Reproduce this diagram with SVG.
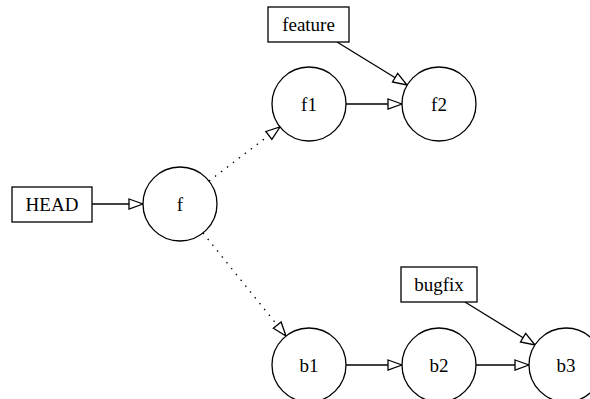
<svg xmlns="http://www.w3.org/2000/svg" width="590" height="399" viewBox="0 0 590 399">
<style>
.n{fill:#fff;stroke:#000;stroke-width:1.3}
.t{font-family:"Liberation Serif","Times New Roman",serif;font-size:19px;text-anchor:middle;fill:#000}
.e{stroke:#000;stroke-width:1.3;fill:none;marker-end:url(#a)}
.d{stroke-dasharray:1.5,6}
</style>
<defs>
<marker id="a" markerUnits="userSpaceOnUse" markerWidth="16" markerHeight="12" viewBox="-1 -1 16 12" refX="14" refY="5" orient="auto">
<path d="M0,0 L14,5 L0,10 Z" fill="#fff" stroke="#000" stroke-width="1.3"/>
</marker>
</defs>
<rect width="590" height="399" fill="#fff"/>
<g id="edges">
<line class="e" x1="92" y1="204" x2="143" y2="204"/>
<line class="e d" x1="209" y1="181" x2="280" y2="127"/>
<line class="e d" x1="203" y1="233" x2="286" y2="336"/>
<line class="e" x1="346" y1="104" x2="402" y2="104"/>
<line class="e" x1="337" y1="42" x2="407" y2="85"/>
<line class="e" x1="346" y1="365" x2="402" y2="365"/>
<line class="e" x1="476" y1="365" x2="529" y2="365"/>
<line class="e" x1="465" y1="302" x2="535" y2="345"/>
</g>
<g id="HEAD"><rect class="n" x="12" y="187" width="80" height="35"/><text class="t" x="52" y="211">HEAD</text></g>
<g id="f"><circle class="n" cx="180" cy="204" r="37"/><text class="t" x="180" y="211">f</text></g>
<g id="f1"><circle class="n" cx="309" cy="104" r="37"/><text class="t" x="309" y="111">f1</text></g>
<g id="f2"><circle class="n" cx="439" cy="104" r="37"/><text class="t" x="439" y="111">f2</text></g>
<g id="feature"><rect class="n" x="268" y="7" width="81" height="35"/><text class="t" x="308.5" y="31">feature</text></g>
<g id="b1"><circle class="n" cx="309" cy="365" r="37"/><text class="t" x="309" y="372">b1</text></g>
<g id="b2"><circle class="n" cx="439" cy="365" r="37"/><text class="t" x="439" y="372">b2</text></g>
<g id="b3"><circle class="n" cx="566" cy="365" r="37"/><text class="t" x="566" y="372">b3</text></g>
<g id="bugfix"><rect class="n" x="401" y="267" width="76" height="35"/><text class="t" x="439" y="291">bugfix</text></g>
</svg>
